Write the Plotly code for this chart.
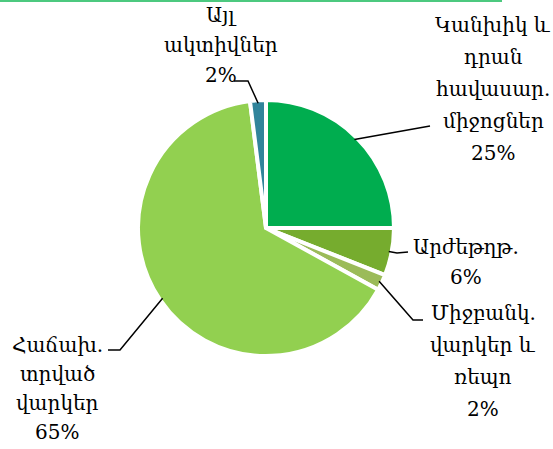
import math
import plotly.graph_objects as go

W, H = 553, 449

labels = [
    "Կանխիկ և<br>դրան<br>հավասար.<br>միջոցներ",
    "Արժեթղթ.",
    "Միջբանկ.<br>վարկեր և<br>ռեպո",
    "Հաճախ.<br>տրված<br>վարկեր",
    "Այլ<br>ակտիվներ",
]
values = [25, 6, 2, 65, 2]
colors = ["#00AD4F", "#76AC2E", "#9BBB59", "#92D050", "#31849B"]

# pie placement in pixels
cx, cy, rad = 266, 228, 128

# label block centre (pixels) and line spacing
label_pos = [(493, 89), (466, 262), (483, 361), (57, 388), (221, 45)]
line_gap = [32, 30, 32, 29, 30]
# leader elbow / end points (pixels)
leader_pts = [
    [(430, 126)],
    [(397, 253), (408, 252)],
    [(413, 320), (423, 320)],
    [(120, 350), (108, 350)],
    [(248, 81), (234, 81)],
]


def px(x, y):
    return x / W, 1 - y / H


fig = go.Figure()

fig.add_trace(
    go.Pie(
        labels=labels,
        values=values,
        sort=False,
        direction="clockwise",
        rotation=0,
        marker=dict(colors=colors, line=dict(color="white", width=4)),
        textinfo="none",
        hoverinfo="label+percent",
        domain=dict(
            x=[(cx - rad) / W, (cx + rad) / W],
            y=[1 - (cy + rad) / H, 1 - (cy - rad) / H],
        ),
        showlegend=False,
    )
)

total = sum(values)
acc = 0
shapes = []
annotations = []
for i, v in enumerate(values):
    mid = (acc + v / 2) / total * 2 * math.pi
    acc += v
    sx = cx + (rad - 3) * math.sin(mid)
    sy = cy - (rad - 3) * math.cos(mid)
    pts = [(sx, sy)] + leader_pts[i]
    path = "M " + " L ".join(f"{px(x, y)[0]},{px(x, y)[1]}" for x, y in pts)
    shapes.append(dict(type="path", xref="paper", yref="paper", path=path,
                       line=dict(color="black", width=1.5)))

    # one annotation per text line, to get the wider line spacing
    lines = labels[i].split("<br>") + [f"{round(v / total * 100)}%"]
    n = len(lines)
    for k, t in enumerate(lines):
        lx, ly = px(label_pos[i][0], label_pos[i][1] + (k - (n - 1) / 2) * line_gap[i])
        annotations.append(dict(
            x=lx, y=ly, xref="paper", yref="paper", text=t,
            showarrow=False, xanchor="center", yanchor="middle",
            font=dict(family="DejaVu Serif", size=20, color="black"),
        ))

# thin green rule along the top edge
shapes.append(dict(type="line", xref="paper", yref="paper",
                   x0=0, x1=502 / W, y0=1 - 1 / H, y1=1 - 1 / H,
                   line=dict(color="#4CC97F", width=2)))

fig.update_layout(
    width=W,
    height=H,
    margin=dict(l=0, r=0, t=0, b=0),
    paper_bgcolor="white",
    plot_bgcolor="white",
    shapes=shapes,
    annotations=annotations,
)

# drop the page's default body margin so the figure sits at the window corner
fig.write_html("out.html", config={"displayModeBar": False},
               post_script="document.body.style.margin='0';")
